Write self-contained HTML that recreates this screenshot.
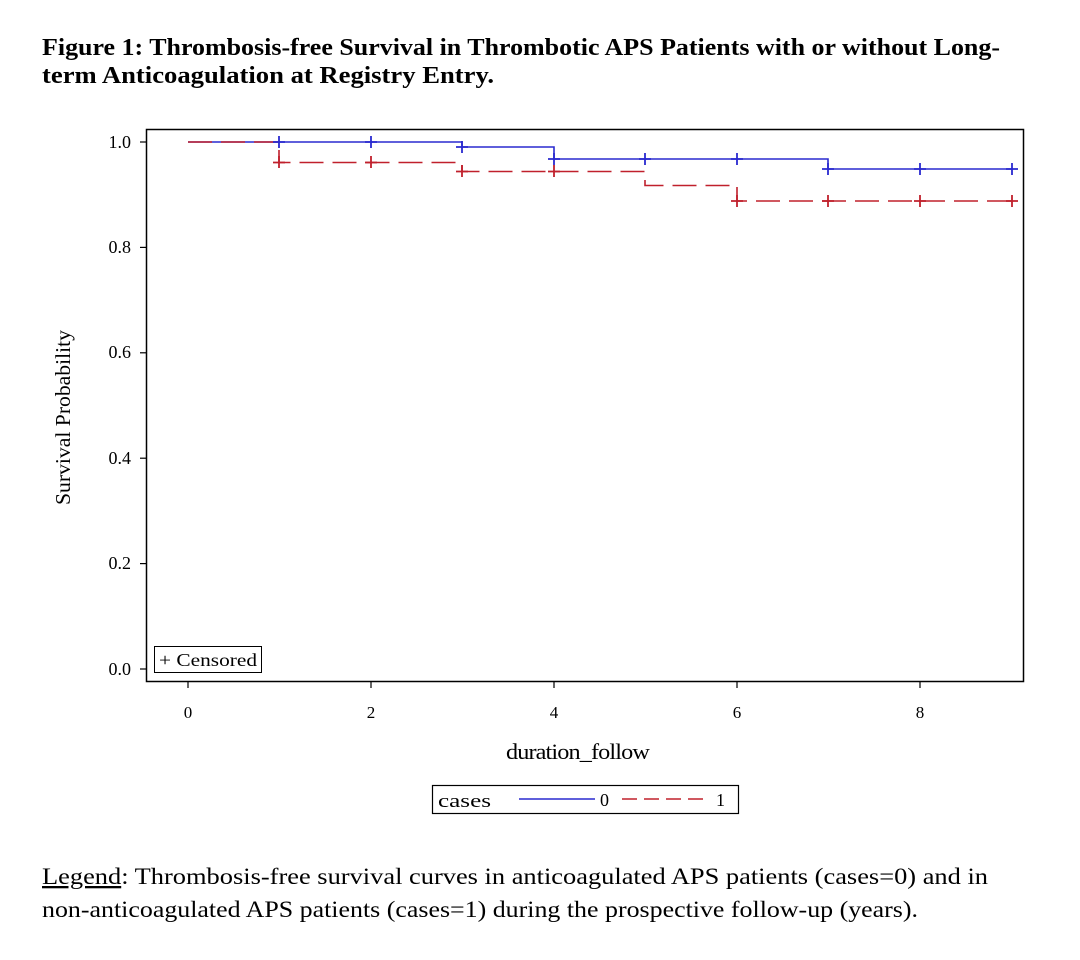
<!DOCTYPE html>
<html><head><meta charset="utf-8"><style>
body{margin:0;background:#fff;width:1080px;height:960px;overflow:hidden}
svg{display:block}
text{font-family:"Liberation Serif",serif;fill:#000}
</style></head><body>
<svg width="1080" height="960" xmlns="http://www.w3.org/2000/svg">
<text x="42" y="55" font-size="24" font-weight="bold" textLength="958" lengthAdjust="spacingAndGlyphs">Figure 1: Thrombosis-free Survival in Thrombotic APS Patients with or without Long-</text>
<text x="42" y="83" font-size="24" font-weight="bold" textLength="452" lengthAdjust="spacingAndGlyphs">term Anticoagulation at Registry Entry.</text>
<rect x="146.5" y="129.5" width="877" height="552" fill="none" stroke="#000" stroke-width="1.5"/>
<g stroke="#000" stroke-width="1.2">
<line x1="140" y1="142" x2="146" y2="142"/><line x1="140" y1="247.4" x2="146" y2="247.4"/><line x1="140" y1="352.8" x2="146" y2="352.8"/><line x1="140" y1="458.2" x2="146" y2="458.2"/><line x1="140" y1="563.6" x2="146" y2="563.6"/><line x1="140" y1="669" x2="146" y2="669"/>
<line x1="188" y1="682" x2="188" y2="688"/><line x1="371" y1="682" x2="371" y2="688"/><line x1="554" y1="682" x2="554" y2="688"/><line x1="737" y1="682" x2="737" y2="688"/><line x1="920" y1="682" x2="920" y2="688"/>
</g>
<g font-size="18" text-anchor="end">
<text x="131" y="148">1.0</text><text x="131" y="253">0.8</text><text x="131" y="358">0.6</text><text x="131" y="464">0.4</text><text x="131" y="569">0.2</text><text x="131" y="675">0.0</text>
</g>
<g font-size="17" text-anchor="middle">
<text x="188" y="718">0</text><text x="371" y="718">2</text><text x="554" y="718">4</text><text x="737" y="718">6</text><text x="920" y="718">8</text>
</g>
<text x="506" y="759" font-size="22" textLength="143" lengthAdjust="spacingAndGlyphs" letter-spacing="-0.8">duration_follow</text>
<text transform="translate(70,505) rotate(-90)" font-size="21" textLength="175" lengthAdjust="spacingAndGlyphs">Survival Probability</text>
<polyline fill="none" stroke="#2a2acf" stroke-width="1.6" points="188,142 462,142 462,147 554,147 554,159 828,159 828,169 1012,169"/>
<polyline fill="none" stroke="#c0202c" stroke-width="1.6" stroke-dasharray="24,9" points="188,142 279,142 279,162.5 462,162.5 462,171.5 645,171.5 645,185.5 737,185.5 737,201 1012,201"/>
<g stroke="#2a2acf" stroke-width="1.8">
<path d="M279,136v12M273,142h12M371,136v12M365,142h12M462,141v12M456,147h12M554,153v12M548,159h12M645,153v12M639,159h12M737,153v12M731,159h12M828,163v12M822,169h12M920,163v12M914,169h12M1012,163v12M1006,169h12"/>
</g>
<g stroke="#c0202c" stroke-width="1.8">
<path d="M279,156v12M273,162.5h12M371,156v12M365,162.5h12M462,165v12M456,171.5h12M554,165v12M548,171.5h12M737,195v12M731,201h12M828,195v12M822,201h12M920,195v12M914,201h12M1012,195v12M1006,201h12"/>
</g>
<rect x="154.5" y="646.5" width="107" height="26" fill="#fff" stroke="#000" stroke-width="1"/>
<text x="159" y="666" font-size="18" textLength="98" lengthAdjust="spacingAndGlyphs">+ Censored</text>
<rect x="432.5" y="785.5" width="306" height="28" fill="none" stroke="#000" stroke-width="1.2"/>
<text x="438" y="807" font-size="19" font-family="Liberation Sans" textLength="53" lengthAdjust="spacingAndGlyphs">cases</text>
<line x1="519" y1="799" x2="595" y2="799" stroke="#2a2acf" stroke-width="1.6"/>
<text x="600" y="806" font-size="18">0</text>
<line x1="622" y1="799" x2="704" y2="799" stroke="#c0202c" stroke-width="1.6" stroke-dasharray="15,7"/>
<text x="716" y="806" font-size="18">1</text>
<text x="42" y="884" font-size="23" textLength="946" lengthAdjust="spacingAndGlyphs"><tspan text-decoration="underline">Legend</tspan>: Thrombosis-free survival curves in anticoagulated APS patients (cases=0) and in</text>
<text x="42" y="917" font-size="23" textLength="876" lengthAdjust="spacingAndGlyphs">non-anticoagulated APS patients (cases=1) during the prospective follow-up (years).</text>
</svg>
</body></html>
